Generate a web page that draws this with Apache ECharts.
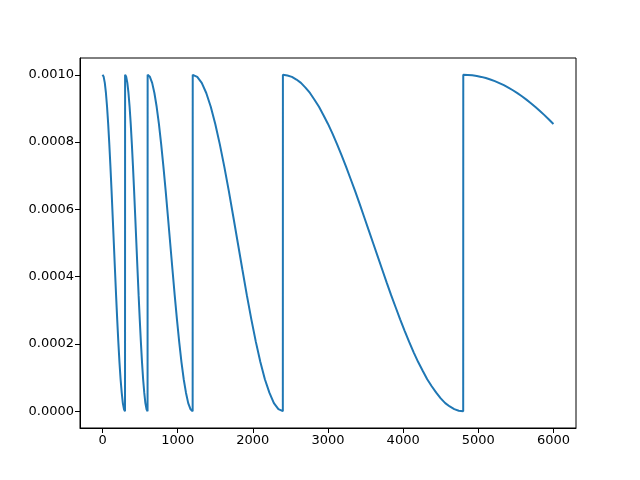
<!DOCTYPE html>
<html>
<head>
<meta charset="utf-8">
<script src="https://cdn.jsdelivr.net/npm/echarts@6/dist/echarts.min.js"></script>
<style>html,body{margin:0;padding:0;background:#fff}#c{width:640px;height:480px}</style>
</head>
<body>
<div id="c"></div>
<script>
// Cycle 1: 0-300
var x1 = [0,15,30,45,60,75,90,105,120,135,150,165,180,195,210,225,240,255,270,285,299];
var y1 = [0.001000,0.000994,0.000976,0.000946,0.000905,0.000854,0.000794,0.000727,0.000655,0.000578,0.000500,0.000422,0.000345,0.000273,0.000206,0.000146,0.000095,0.000055,0.000024,0.000006,0.000000];
// Cycle 2: 300-600
var x2 = [300,315,330,345,360,375,390,405,420,435,450,465,480,495,510,525,540,555,570,585,599];
var y2 = [0.001000,0.000994,0.000976,0.000946,0.000905,0.000854,0.000794,0.000727,0.000655,0.000578,0.000500,0.000422,0.000345,0.000273,0.000206,0.000146,0.000095,0.000055,0.000024,0.000006,0.000000];
// Cycle 3: 600-1200
var x3 = [600,630,660,690,720,750,780,810,840,870,900,930,960,990,1020,1050,1080,1110,1140,1170,1199];
var y3 = [0.001000,0.000994,0.000976,0.000946,0.000905,0.000854,0.000794,0.000727,0.000655,0.000578,0.000500,0.000422,0.000345,0.000273,0.000206,0.000146,0.000095,0.000055,0.000024,0.000006,0.000000];
// Cycle 4: 1200-2400
var x4 = [1200,1260,1320,1380,1440,1500,1560,1620,1680,1740,1800,1860,1920,1980,2040,2100,2160,2220,2280,2340,2399];
var y4 = [0.001000,0.000994,0.000976,0.000946,0.000905,0.000854,0.000794,0.000727,0.000655,0.000578,0.000500,0.000422,0.000345,0.000273,0.000206,0.000146,0.000095,0.000055,0.000024,0.000006,0.000000];
// Cycle 5: 2400-4800
var x5 = [2400,2460,2520,2580,2640,2700,2760,2820,2880,2940,3000,3060,3120,3180,3240,3300,3360,3420,3480,3540,
          3600,3660,3720,3780,3840,3900,3960,4020,4080,4140,4200,4260,4320,4380,4440,4500,4560,4620,4680,4740,4799];
var y5 = [0.001000,0.000998,0.000994,0.000986,0.000976,0.000962,0.000946,0.000926,0.000905,0.000880,
          0.000854,0.000825,0.000794,0.000761,0.000727,0.000691,0.000655,0.000617,0.000578,0.000539,
          0.000500,0.000461,0.000422,0.000383,0.000345,0.000309,0.000273,0.000239,0.000206,0.000175,
          0.000146,0.000120,0.000095,0.000074,0.000055,0.000038,0.000024,0.000014,0.000006,0.0000015,0.000000];
// Cycle 6: 4800-6000 (partial)
var x6 = [4800,4860,4920,4980,5040,5100,5160,5220,5280,5340,5400,5460,5520,5580,5640,5700,5760,5820,5880,5940,6000];
var y6 = [0.001000,0.0009996,0.0009985,0.0009965,0.0009938,0.0009904,0.0009862,0.0009812,0.0009755,0.0009691,0.0009619,0.0009541,0.0009455,0.0009363,0.0009263,0.0009157,0.0009045,0.0008927,0.0008802,0.0008672,0.0008536];

var xTicks = [0,1000,2000,3000,4000,5000,6000];
var yTicks = [0,0.0002,0.0004,0.0006,0.0008,0.0010];

var xs = [x1,x2,x3,x4,x5,x6], ys = [y1,y2,y3,y4,y5,y6];
var data = [];
for (var s = 0; s < xs.length; s++) {
  for (var i = 0; i < xs[s].length; i++) data.push([xs[s][i], ys[s][i]]);
}

var font = 'DejaVu Sans';
var chart = echarts.init(document.getElementById('c'), null, {renderer: 'canvas'});
chart.setOption({
  animation: false,
  grid: {left: 80, right: 64, top: 58, bottom: 52, show: true, borderColor: '#000', borderWidth: 1, backgroundColor: 'transparent'},
  xAxis: {
    type: 'value', min: -300, max: 6300,
    axisLine: {show: true, onZero: false, lineStyle: {color: '#000', width: 1}},
    axisTick: {show: true, inside: false, length: 5, customValues: xTicks, lineStyle: {color: '#000', width: 1}},
    axisLabel: {customValues: xTicks, color: '#000', fontFamily: font, fontSize: 13, margin: 6,
      formatter: function (v) { return String(v); }},
    splitLine: {show: false}
  },
  yAxis: {
    type: 'value', min: -0.00005, max: 0.00105,
    axisLine: {show: true, onZero: false, lineStyle: {color: '#000', width: 1}},
    axisTick: {show: true, inside: false, length: 5, customValues: yTicks, lineStyle: {color: '#000', width: 1}},
    axisLabel: {customValues: yTicks, color: '#000', fontFamily: font, fontSize: 13, margin: 6,
      formatter: function (v) { return v.toFixed(4); }},
    splitLine: {show: false}
  },
  series: [{
    type: 'line', data: data, showSymbol: false, symbol: 'none', smooth: false,
    lineStyle: {color: '#1f77b4', width: 2}, clip: true
  }]
});
</script>
</body>
</html>
